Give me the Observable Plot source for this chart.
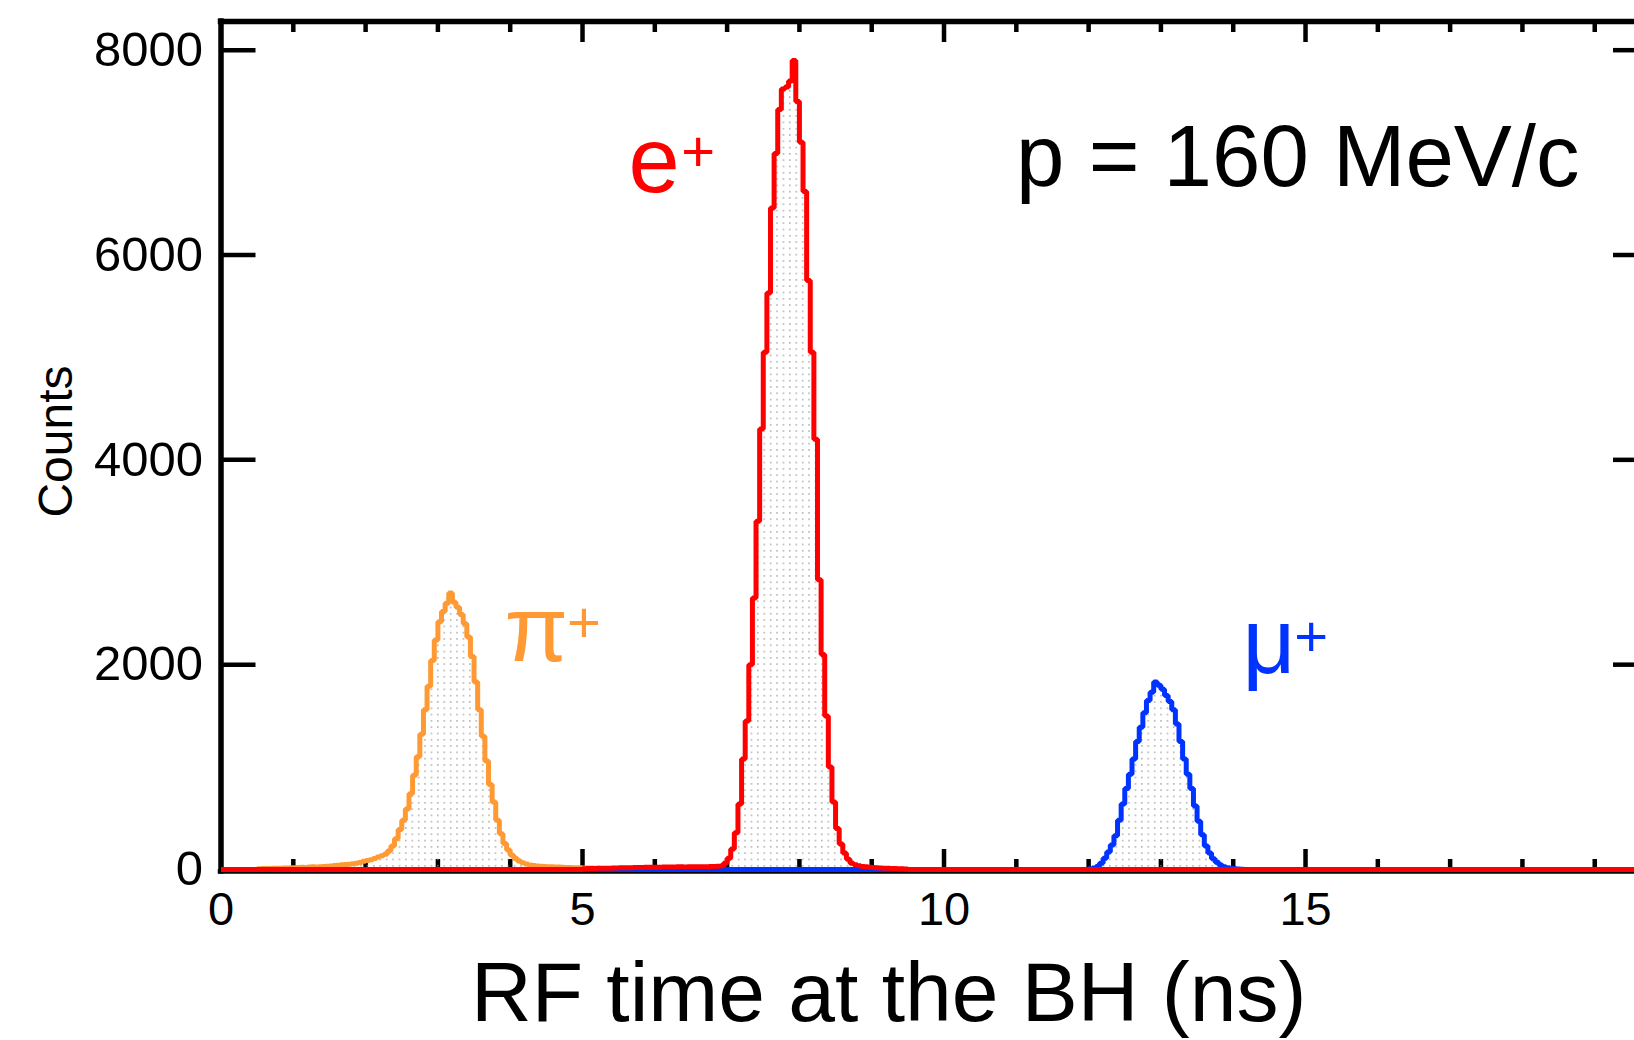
<!DOCTYPE html>
<html><head><meta charset="utf-8">
<script src="https://cdn.jsdelivr.net/npm/d3@7"></script>
<script src="https://cdn.jsdelivr.net/npm/@observablehq/plot@0.6"></script>
<style>html,body{margin:0;padding:0;background:#fff;} #chart svg{overflow:hidden;display:block}</style>
</head><body><div id="chart"></div>
<script>
// ---- data (bin width 0.05 ns) ----
const binWidth = 0.05;
const piStart = 0.5;
const piCounts = [
  8,9,10,10,11,12,13,14,15,16,
  18,20,22,20,24,26,25,28,30,32,35,38,42,46,48,52,55,60,68,80,
  88,95,108,122,135,150,180,230,300,390,480,590,740,920,1100,1320,1560,1790,2040,2240,
  2420,2520,2600,2700,2610,2560,2490,2400,2270,2080,1830,1560,1300,1060,830,660,480,350,255,190,
  140,108,82,66,54,45,40,35,32,30,28,26,25,24,22,20,20,18,18,16,
  15,14,14,12,12,10,10,9,8,8
];
const eStart = 5.0;
const eCounts = [
  8,9,10,10,11,12,12,13,14,15,
  16,17,18,18,19,20,20,21,22,22,
  22,23,24,24,25,25,26,26,25,26,
  26,27,27,28,28,29,30,32,35,62,
  110,200,360,640,1080,1450,2000,2650,3400,4300,5050,5630,6460,6990,7420,7620,7640,7700,7900,7500,
  7100,6620,5750,5050,4200,2830,2100,1500,1000,660,400,250,160,100,62,46,36,30,26,22,
  19,17,15,13,12,10,9,8,7,6
];
const muStart = 12.0;
const muCounts = [
  8,15,30,60,110,170,240,330,480,640,790,930,1080,1250,1390,1530,1650,1730,1830,1800,
  1760,1700,1640,1560,1420,1250,1080,930,790,620,470,340,230,160,105,70,45,28,18,12,
  8,5,3
];
const seriesNames = ["pi+", "mu+", "e+"];
const seriesColors = ["#ff9933", "#0033ff", "#ff0000"];

const xMax = 19.55, yMax = 8280;
const yTicks = [0, 2000, 4000, 6000, 8000];
const xLabelTicks = [0, 5, 10, 15];
const xMajorTicks = [5, 10, 15];
const xMinorTicks = [1, 2, 3, 4, 6, 7, 8, 9, 11, 12, 13, 14, 16, 17, 18, 19];
const xTitle = "RF time at the BH (ns)";
const yTitle = "Counts";
const momentumLabel = "p = 160 MeV/c";
const particleSymbols = ["π", "μ", "e"];
const superscript = "+";

// ---- build step-histogram tables ----
function hist(start, counts) {
  const pts = [{t: 0, c: 0}];
  counts.forEach((c, i) => pts.push({t: start + i * binWidth, c}));
  pts.push({t: start + counts.length * binWidth, c: 0});
  pts.push({t: xMax, c: 0});
  return pts;
}
const series = [hist(piStart, piCounts), hist(muStart, muCounts), hist(eStart, eCounts)];

// label anchors (data units)
const symbolAnchors = [{t: 3.92, c: 2040}, {t: 14.13, c: 1923}, {t: 5.636, c: 6618}];
const plusAnchors = [{t: 5.02, c: 2401}, {t: 15.08, c: 2265}, {t: 6.6, c: 6999}];

const W = 1634, H = 1040, mL = 220.5, mT = 21, mB = 171;
const plotW = W - mL, plotH = H - mT - mB;

const marks = [
  // inward ticks
  Plot.tickX(xMinorTicks, {x: d => d, stroke: "black", strokeWidth: 4.5, insetBottom: plotH - 11}),
  Plot.tickX(xMajorTicks, {x: d => d, stroke: "black", strokeWidth: 4.5, insetBottom: plotH - 21}),
  Plot.tickX(xMinorTicks, {x: d => d, stroke: "black", strokeWidth: 4.5, insetTop: plotH - 10}),
  Plot.tickX(xMajorTicks, {x: d => d, stroke: "black", strokeWidth: 4.5, insetTop: plotH - 20}),
  Plot.tickY(yTicks, {y: d => d, stroke: "black", strokeWidth: 4.5, insetRight: plotW - 35}),
  Plot.tickY(yTicks, {y: d => d, stroke: "black", strokeWidth: 4.5, insetLeft: plotW - 21}),
  // frame (left, top, bottom)
  Plot.ruleX([0], {stroke: "black", strokeWidth: 5.5, insetTop: -2.75, insetBottom: -4.5}),
  Plot.ruleY([yMax], {stroke: "black", strokeWidth: 5.5, insetLeft: -2.75}),
  Plot.ruleY([0], {stroke: "black", strokeWidth: 4.5, dy: 2, insetLeft: -2.75}),
];
series.forEach((s) => {
  marks.push(Plot.areaY(s, {x: "t", y: "c", curve: "step-after", fill: "url(#dots)"}));
});
series.forEach((s, i) => {
  marks.push(Plot.lineY(s, {x: "t", y: "c", curve: "step-after", stroke: seriesColors[i], strokeWidth: 5, strokeLinejoin: "miter", strokeLinecap: "butt"}));
});
marks.push(
  Plot.axisX(xLabelTicks, {anchor: "bottom", tickSize: 0, tickPadding: 22, fontSize: 47, label: null}),
  Plot.axisY(yTicks, {anchor: "left", tickSize: 0, tickPadding: 18, fontSize: 49, label: null, tickFormat: "d"}),
  Plot.text([xTitle], {text: d => d, frameAnchor: "bottom", textAnchor: "middle", lineAnchor: "bottom", dx: -39, dy: 151, fontSize: 84, fill: "black"}),
  Plot.text([yTitle], {text: d => d, frameAnchor: "left", textAnchor: "middle", rotate: -90, lineAnchor: "bottom", dx: -149, dy: -4, fontSize: 48, fill: "black"}),
  Plot.text([momentumLabel], {text: d => d, frameAnchor: "top-right", textAnchor: "end", lineAnchor: "bottom", dx: -55, dy: 164, fontSize: 87, fill: "black"}),
  Plot.text(particleSymbols.map((s, i) => ({s, ...symbolAnchors[i], col: seriesColors[i]})), {x: "t", y: "c", text: "s", fill: d => d.col, textAnchor: "start", lineAnchor: "bottom", fontSize: 92}),
  Plot.text(particleSymbols.map((s, i) => ({s: superscript, ...plusAnchors[i], col: seriesColors[i]})), {x: "t", y: "c", text: "s", fill: d => d.col, textAnchor: "middle", lineAnchor: "middle", fontSize: 58})
);

const chart = Plot.plot({
  width: W, height: H,
  marginLeft: mL, marginRight: 0, marginTop: mT, marginBottom: mB,
  x: {domain: [0, xMax]},
  y: {domain: [0, yMax]},
  color: {type: "identity"},
  style: {fontFamily: "'Liberation Sans', Arial, Helvetica, sans-serif", color: "black", background: "white"},
  marks
});

// dotted fill pattern
const svg = d3.select(chart.tagName.toLowerCase() === "svg" ? chart : chart.querySelector("svg"));
const pat = svg.insert("defs", ":first-child").append("pattern")
  .attr("id", "dots").attr("patternUnits", "userSpaceOnUse")
  .attr("width", 6.4).attr("height", 6.3);
pat.append("rect").attr("x", 2).attr("y", 2).attr("width", 1.3).attr("height", 1.3).attr("fill", "#8c8c8c");

document.getElementById("chart").appendChild(chart);
</script>
</body></html>
